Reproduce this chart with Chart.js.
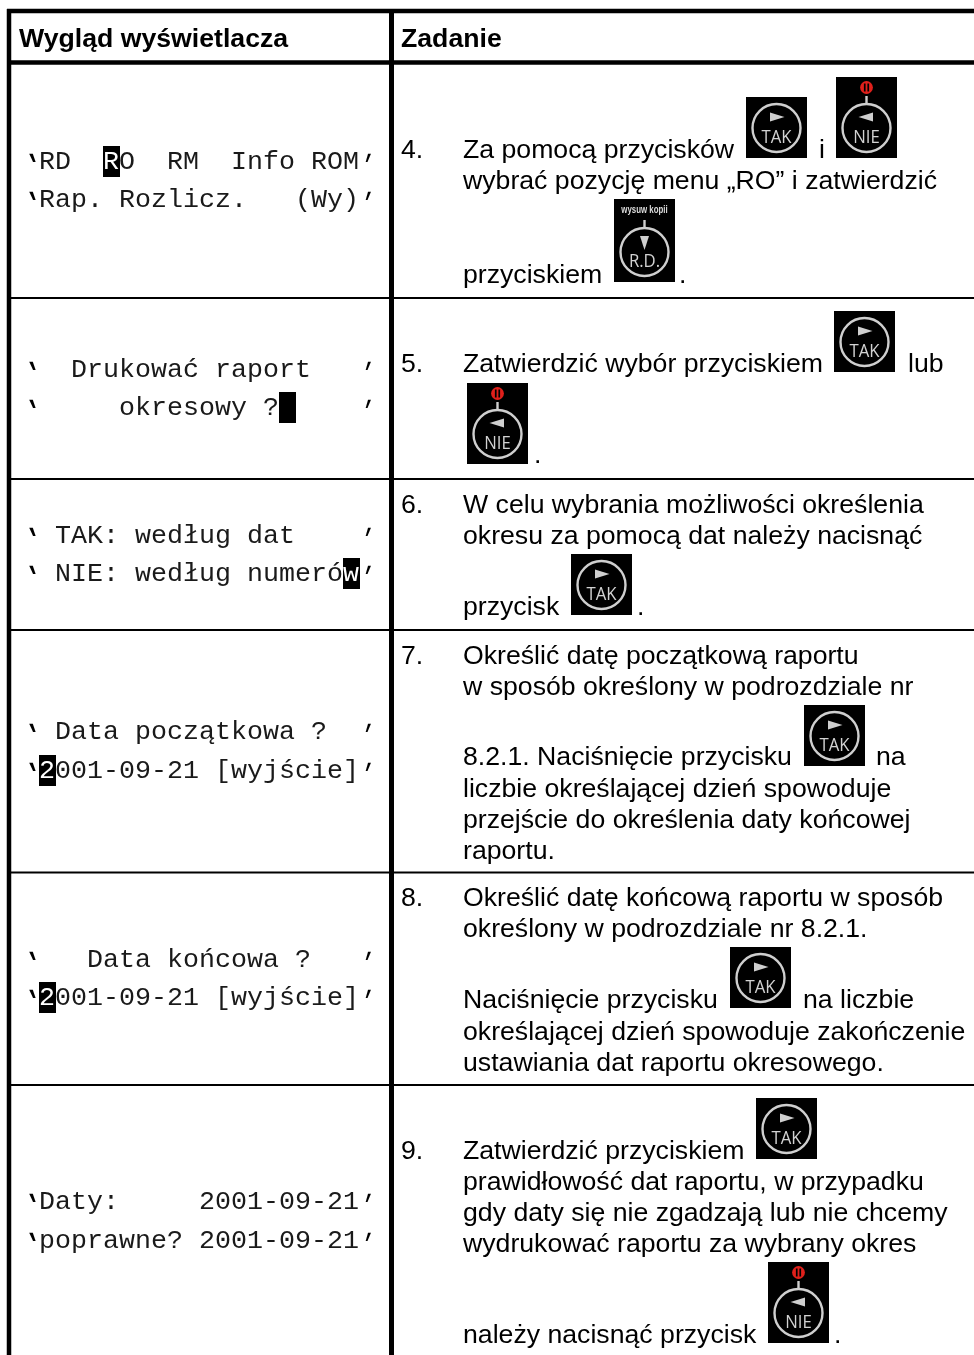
<!DOCTYPE html>
<html lang="pl"><head><meta charset="utf-8">
<style>html,body{margin:0;padding:0;background:#fff}canvas{display:block}</style>
<script src="https://cdn.jsdelivr.net/npm/chart.js@4"></script></head>
<body><canvas id="c" width="974" height="1355"></canvas>
<script>
// ---- content ----
const headers = ["Wygląd wyświetlacza", "Zadanie"];
const displayLines = [
 "'RD  RO  RM  Info ROM'","'Rap. Rozlicz.   (Wy)'",
 "'  Drukować raport   '","'     okresowy ?     '",
 "' TAK: według dat    '","' NIE: według numerów'",
 "' Data początkowa ?  '","'2001-09-21 [wyjście]'",
 "'   Data końcowa ?   '","'2001-09-21 [wyjście]'",
 "'Daty:     2001-09-21'","'poprawne? 2001-09-21'"];
const displayCursorLine = [0,3,5,7,9];
const displayCursorChar = [5,16,20,1,1];
const taskLines = [
 "4.","Za pomocą przycisków","i","wybrać pozycję menu „RO” i zatwierdzić","przyciskiem",".",
 "5.","Zatwierdzić wybór przyciskiem","lub",".",
 "6.","W celu wybrania możliwości określenia","okresu za pomocą dat należy nacisnąć","przycisk",".",
 "7.","Określić datę początkową raportu","w sposób określony w podrozdziale nr","8.2.1. Naciśnięcie przycisku","na","liczbie określającej dzień spowoduje","przejście do określenia daty końcowej","raportu.",
 "8.","Określić datę końcową raportu w sposób","określony w podrozdziale nr 8.2.1.","Naciśnięcie przycisku","na liczbie","określającej dzień spowoduje zakończenie","ustawiania dat raportu okresowego.",
 "9.","Zatwierdzić przyciskiem","prawidłowość dat raportu, w przypadku","gdy daty się nie zgadzają lub nie chcemy","wydrukować raportu za wybrany okres","należy nacisnąć przycisk","."];
const buttonKinds = ["TAK","NIE","R.D.","TAK","NIE","TAK","TAK","TAK","TAK","NIE"];

// ---- layout, in scale units ----
const headerX = [19,401], headerY = 47;
const displayY = [169,207,377,415,543,581,739,778,967,1005,1209,1248];
const taskX = [401,463,819,463,463,679, 401,463,908,534, 401,463,463,463,637, 401,463,463,463,876,463,463,463, 401,463,463,463,803,463,463, 401,463,463,463,463,463,834];
const taskY = [158,158,158,189,283,283, 372,372,372,463, 513,513,544,615,615, 664,664,695,765,765,797,828,859, 906,906,937,1008,1008,1040,1071, 1159,1159,1190,1221,1252,1343,1343];
const buttonX = [746,836,614,834,467,571,804,730,756,768];
const buttonY = [97,77,199,311,383,554,705,947,1098,1262];
const thickH = [11,62.5], thinH = [298,479,630,872.5,1085], thickV = [9,391.5];

const rule = (x1,y1,x2,y2,w)=>({type:'line',data:[{x:x1,y:y1},{x:x2,y:y2}],borderColor:'#000',borderWidth:w,pointRadius:0,borderCapStyle:'butt',parsing:false,fill:false});
const rules = [
 ...thickH.map(y=>rule(7,y,974,y,4.5)),
 ...thinH.map(y=>rule(7,y,974,y,2)),
 ...thickV.map(x=>rule(x,9,x,1355,x<100?4.5:5))];

const MONO='"Liberation Mono"', SANS='"Liberation Sans"', SIZE=26.67, CELL=16, MONOX=23;

function drawButton(ctx,kind,x0,y0){
 const h = kind==='TAK'?61:(kind==='NIE'?81:83);
 const cx=x0+30.5, cy= y0+h-30;
 ctx.save();
 ctx.fillStyle='#000'; ctx.fillRect(x0,y0,61,h);
 ctx.strokeStyle='#cfcfcf'; ctx.fillStyle='#cfcfcf'; ctx.lineWidth=2.4;
 ctx.beginPath(); ctx.arc(cx,cy,24,0,Math.PI*2); ctx.stroke();
 ctx.beginPath();
 if(kind==='TAK'){ctx.moveTo(cx-6.5,cy-15.5);ctx.lineTo(cx+8,cy-11);ctx.lineTo(cx-6.5,cy-6.5);}
 if(kind==='NIE'){ctx.moveTo(cx+6.5,cy-15.5);ctx.lineTo(cx-8,cy-11);ctx.lineTo(cx+6.5,cy-6.5);}
 if(kind==='R.D.'){ctx.moveTo(cx-4.5,cy-16);ctx.lineTo(cx+4.5,cy-16);ctx.lineTo(cx,cy-2);}
 ctx.closePath(); ctx.fill();
 if(kind!=='TAK'){ctx.beginPath();ctx.moveTo(cx,cy-32);ctx.lineTo(cx,cy-24);ctx.stroke();}
 if(kind==='NIE'){
  ctx.fillStyle='#e0201b';
  ctx.beginPath();ctx.arc(cx,y0+10.5,6.4,0,Math.PI*2);ctx.fill();
  ctx.fillStyle='#000';ctx.fillRect(cx-2.6,y0+6.5,5.2,8);
  ctx.fillStyle='#e0201b';ctx.fillRect(cx-0.9,y0+4.5,1.8,12);
  ctx.fillStyle='#cfcfcf';
 }
 if(kind==='R.D.'){
  ctx.save();ctx.translate(cx,y0+14);ctx.scale(0.75,1);
  ctx.font='bold 10.5px '+SANS;ctx.textAlign='center';ctx.textBaseline='alphabetic';
  ctx.fillStyle='#dcdcdc';ctx.fillText('wysuw kopii',0,0);ctx.restore();
 }
 ctx.save();ctx.translate(cx,cy+14.5);ctx.scale(0.88,1);
 ctx.font='19px "Open Sans"';ctx.textAlign='center';ctx.textBaseline='alphabetic';
 ctx.fillStyle='#d2d2d2';ctx.fillText(kind,0,0);ctx.restore();
 ctx.restore();
}

function drawQuote(ctx,px,py,isLeft){
 ctx.save();
 ctx.font=(isLeft?'bold ':'')+SIZE+'px '+MONO;
 ctx.transform(1,0,isLeft?0.4:-0.35,1,px+(isLeft?2:0),py+3.5);
 ctx.fillText("'",(isLeft?9:8)-(isLeft?0.4:-0.35)*(-12),0);
 ctx.restore();
}

const tablePlugin={id:'table',afterDatasetsDraw(chart){
 const ctx=chart.ctx,sx=chart.scales.x,sy=chart.scales.y;
 const X=v=>sx.getPixelForValue(v),Y=v=>sy.getPixelForValue(v);
 ctx.save();ctx.textBaseline='alphabetic';ctx.textAlign='left';ctx.fillStyle='#000';
 ctx.font='bold '+SIZE+'px '+SANS;
 headers.forEach((t,i)=>ctx.fillText(t,X(headerX[i]),Y(headerY)));
 ctx.font=SIZE+'px '+MONO;
 displayLines.forEach((t,i)=>{
  const k=displayCursorLine.indexOf(i);
  [...t].forEach((ch,j)=>{
   const px=X(MONOX+CELL*j),py=Y(displayY[i]);
   if(ch==="'"){
    ctx.save();ctx.textAlign='center';
    drawQuote(ctx,px,py,j===0);
    ctx.restore();
    return;
   }
   const cur=k>=0&&displayCursorChar[k]===j;
   if(cur){ctx.fillStyle='#000';ctx.fillRect(px,py-23,CELL+1,31);ctx.fillStyle='#fff';}
   else ctx.fillStyle='#1a1a1a';
   if(ch!==' ')ctx.fillText(ch,px,py);
   ctx.fillStyle='#000';
  });
 });
 ctx.font=SIZE+'px '+SANS;
 taskLines.forEach((t,i)=>ctx.fillText(t,X(taskX[i]),Y(taskY[i])));
 ctx.restore();
 buttonKinds.forEach((b,i)=>drawButton(ctx,b,X(buttonX[i]),Y(buttonY[i])));
}};

new Chart(document.getElementById('c'),{
 type:'scatter',
 data:{datasets:rules},
 options:{responsive:false,animation:false,events:[],
  layout:{padding:0},
  plugins:{legend:{display:false},tooltip:{enabled:false},title:{display:false}},
  scales:{x:{type:'linear',display:false,min:0,max:974},y:{type:'linear',display:false,min:0,max:1355,reverse:true}}},
 plugins:[tablePlugin]});
</script></body></html>
